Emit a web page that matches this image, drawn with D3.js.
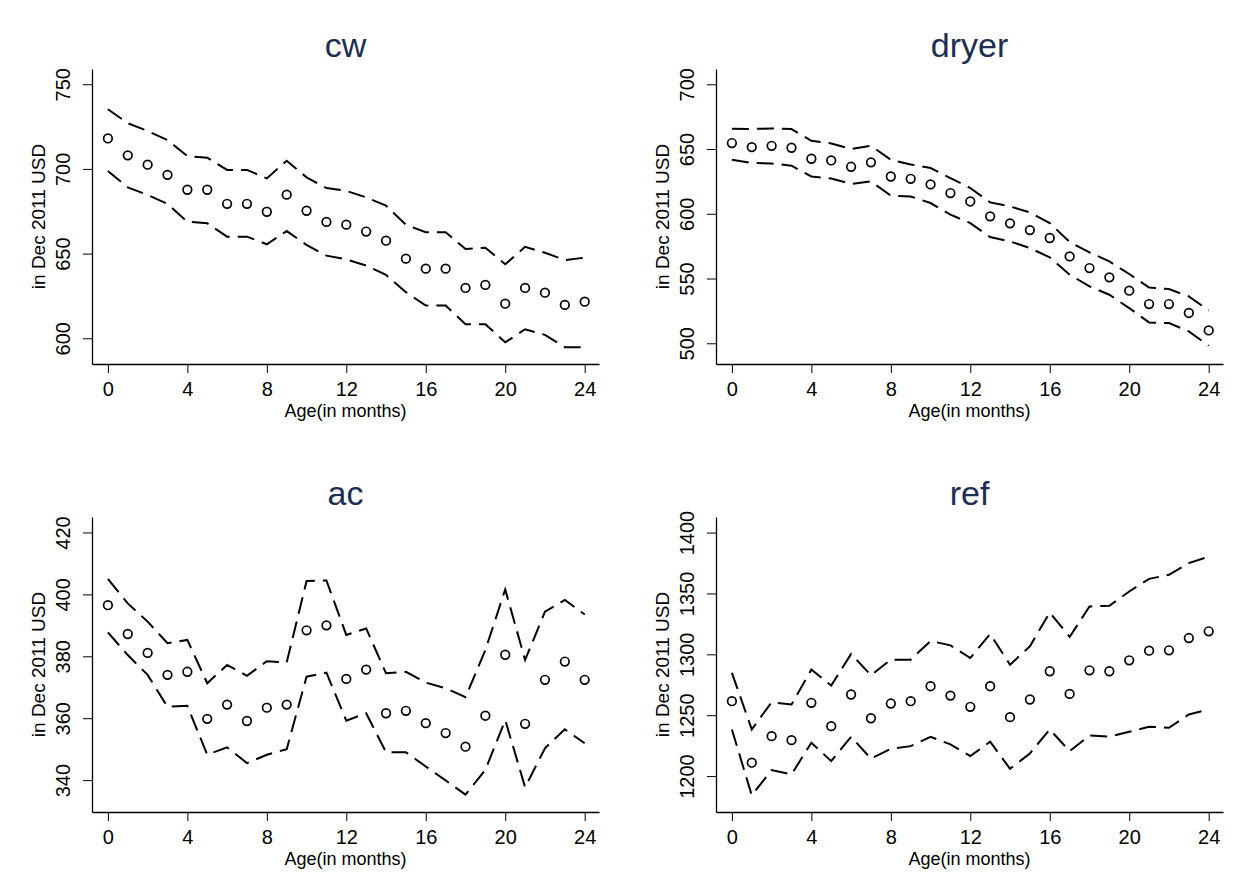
<!DOCTYPE html>
<html>
<head>
<meta charset="utf-8">
<script src="https://cdn.jsdelivr.net/npm/d3@7"></script>
<style>
    body { margin: 0; background: #fff; }
    svg { display: block; font-family: "Liberation Sans", Arial, sans-serif; }
</style>
</head>
<body>
<div id="chart"></div>
<script>
    // months since purchase
    var ages = d3.range(0, 25);
    var xTicks = [0, 4, 8, 12, 16, 20, 24];

    var cwMean = [718, 708, 702.5, 696.5, 687.7, 687.7, 679.4, 679.4, 674.7, 684.8, 675.3, 668.7, 667.1,
        663, 657.6, 647, 641.1, 641.1, 629.7, 631.5, 620.4, 629.7, 626.9, 619.7, 621.6];
    var cwUpper = [735.2, 727, 722.4, 717, 707.6, 706.6, 699.4, 699.4, 694.4, 704.8, 695, 688.7, 687,
        683.2, 678.3, 667, 662.6, 662.6, 652.7, 653.5, 643.7, 654, 650.5, 646.2, 647.6];
    var cwLower = [698.8, 689.1, 684.6, 679.3, 668.8, 667.9, 660, 660, 655.5, 663.3, 655.1, 648.8, 646.6,
        642.9, 637.4, 627.2, 619.3, 619.3, 608.3, 608.3, 597.6, 605.3, 602, 594.7, 594.7];
    var cwTicks = [600, 650, 700, 750];

    var dryerMean = [654.6, 651.5, 652.5, 651, 642.5, 641.2, 636.3, 639.7, 628.8, 627, 622.7, 616, 609.5,
        598, 592.6, 587.4, 581.3, 567.1, 558.1, 550.9, 540.6, 530.3, 530.3, 523.4, 509.9];
    var dryerUpper = [665.7, 665.5, 665.9, 665.4, 656.4, 654.3, 650, 652.5, 641.7, 638.1, 635.3, 627.6, 619.9,
        608.8, 605.7, 601, 592.8, 578.2, 570.2, 563.2, 553.5, 543.1, 541.9, 536.2, 525.4];
    var dryerLower = [641.7, 639.2, 638.9, 637.1, 628.8, 627.3, 623, 625, 614, 613.4, 608.3, 599.3, 592.8,
        582, 578.7, 573.5, 566.3, 553, 543.9, 537.5, 527.2, 516.1, 515.6, 509.2, 498.1];
    var dryerTicks = [500, 550, 600, 650, 700];

    var acMean = [396.5, 387.2, 381.1, 374, 375, 359.8, 364.4, 359.1, 363.4, 364.4, 388.4, 390, 372.7,
        375.7, 361.6, 362.4, 358.4, 355.2, 350.8, 360.8, 380.5, 358.2, 372.4, 378.3, 372.4];
    var acUpper = [405, 397.1, 391.2, 384.2, 385.3, 371.3, 377.2, 373.7, 378.4, 378, 404.3, 404.5, 386.9,
        389, 374.5, 375, 371.5, 369.7, 366.8, 382, 401.6, 378.8, 394.4, 398.2, 393.5];
    var acLower = [387.7, 380.4, 374, 363.7, 364, 348.2, 350.6, 345.5, 348.2, 350, 373.4, 374.7, 359.2,
        361.6, 349, 349, 344.4, 339.9, 335.3, 343.3, 359.4, 337.7, 350.3, 356.4, 351.9];
    var acTicks = [340, 360, 380, 400, 420];

    var refMean = [1261.5, 1211, 1232.8, 1229.5, 1260.2, 1241, 1267, 1247.5, 1259.6, 1261.5, 1273.8, 1266.1, 1256.9,
        1273.8, 1248.4, 1262.9, 1286.1, 1267.5, 1286.9, 1286.1, 1295.1, 1303, 1303.3, 1313.4, 1318.9];
    var refUpper = [1284.8, 1238.3, 1260.7, 1258.8, 1287.5, 1274.3, 1300.3, 1282.8, 1295.6, 1295.6, 1311, 1307.4, 1297,
        1316.7, 1291.5, 1306.6, 1334.4, 1314.3, 1339.3, 1339.9, 1351.6, 1362, 1365.3, 1374.9, 1380.3];
    var refLower = [1238.3, 1184.2, 1204.9, 1201.4, 1227.4, 1212.3, 1232.3, 1214.3, 1222.5, 1224.6, 1232.3, 1226, 1216.4,
        1228.2, 1206, 1218.6, 1238.3, 1220.5, 1233.4, 1232.3, 1236.4, 1240.5, 1239.7, 1250.6, 1254.7];
    var refTicks = [1200, 1250, 1300, 1350, 1400];

    var width = 1247;
    var height = 892;
    var plotWidth = 507;
    var plotHeight = 295;
    var titleColor = '#1c2e52';
    var fontFamily = '"Liberation Sans", Arial, sans-serif';

    var panels = [
        {title: 'cw', mean: cwMean, upper: cwUpper, lower: cwLower, ticks: cwTicks, yDomain: [584.8, 759], left: 92, top: 69},
        {title: 'dryer', mean: dryerMean, upper: dryerUpper, lower: dryerLower, ticks: dryerTicks, yDomain: [484, 711.8], left: 716, top: 69},
        {title: 'ac', mean: acMean, upper: acUpper, lower: acLower, ticks: acTicks, yDomain: [329.7, 425], left: 92, top: 517},
        {title: 'ref', mean: refMean, upper: refUpper, lower: refLower, ticks: refTicks, yDomain: [1170.5, 1412.8], left: 716, top: 517}
    ];

    var svg = d3.select('#chart').append('svg')
        .attr('width', width)
        .attr('height', height);

    svg.append('rect')
        .attr('width', width)
        .attr('height', height)
        .attr('fill', '#fff');

    /**
     * draws one panel: two dashed bounds and the circles for the estimate
     */
    function drawPanel(p) {
        var g = svg.append('g')
            .attr('transform', 'translate(' + p.left + ',' + p.top + ')');

        var x = d3.scaleLinear().domain([-0.8, 24.72]).range([0, plotWidth]);
        var y = d3.scaleLinear().domain(p.yDomain).range([plotHeight, 0]);

        var line = d3.line()
            .x(function (d, i) { return x(ages[i]); })
            .y(function (d) { return y(d); });

        [p.upper, p.lower].forEach(function (series) {
            g.append('path')
                .datum(series)
                .attr('d', line)
                .attr('fill', 'none')
                .attr('stroke', '#000')
                .attr('stroke-width', 2)
                .attr('stroke-dasharray', '17,8');
        });

        g.selectAll('circle')
            .data(p.mean)
            .enter().append('circle')
            .attr('cx', function (d, i) { return x(ages[i]); })
            .attr('cy', function (d) { return y(d); })
            .attr('r', 4.3)
            .attr('fill', 'none')
            .attr('stroke', '#000')
            .attr('stroke-width', 1.7);

        // x axis
        var xAxis = g.append('g')
            .call(d3.axisBottom(x).tickValues(xTicks).tickSize(9).tickPadding(9).tickSizeOuter(0));
        xAxis.attr('transform', 'translate(0,' + plotHeight + ')');
        xAxis.select('.domain').attr('stroke-width', 1.3);
        xAxis.selectAll('text')
            .attr('font-size', 20)
            .attr('font-family', fontFamily)
            .attr('fill', '#000');

        // y axis, labels turned sideways
        var yAxis = g.append('g')
            .call(d3.axisLeft(y).tickValues(p.ticks).tickFormat(d3.format('d')).tickSize(9).tickSizeOuter(0));
        yAxis.select('.domain').attr('stroke-width', 1.3);
        yAxis.selectAll('text')
            .attr('x', null)
            .attr('dy', null)
            .attr('transform', 'translate(-22,0) rotate(-90)')
            .attr('text-anchor', 'middle')
            .attr('font-size', 20)
            .attr('font-family', fontFamily)
            .attr('fill', '#000');

        g.append('text')
            .attr('x', plotWidth / 2)
            .attr('y', -12)
            .attr('text-anchor', 'middle')
            .attr('font-size', 34)
            .attr('fill', titleColor)
            .text(p.title);

        g.append('text')
            .attr('x', plotWidth / 2)
            .attr('y', plotHeight + 53)
            .attr('text-anchor', 'middle')
            .attr('font-size', 18)
            .attr('fill', '#000')
            .text('Age(in months)');

        g.append('text')
            .attr('transform', 'translate(-47,' + (plotHeight / 2) + ') rotate(-90)')
            .attr('text-anchor', 'middle')
            .attr('font-size', 19)
            .attr('fill', '#000')
            .text('in Dec 2011 USD');
    }

    panels.forEach(drawPanel);
</script>
</body>
</html>
